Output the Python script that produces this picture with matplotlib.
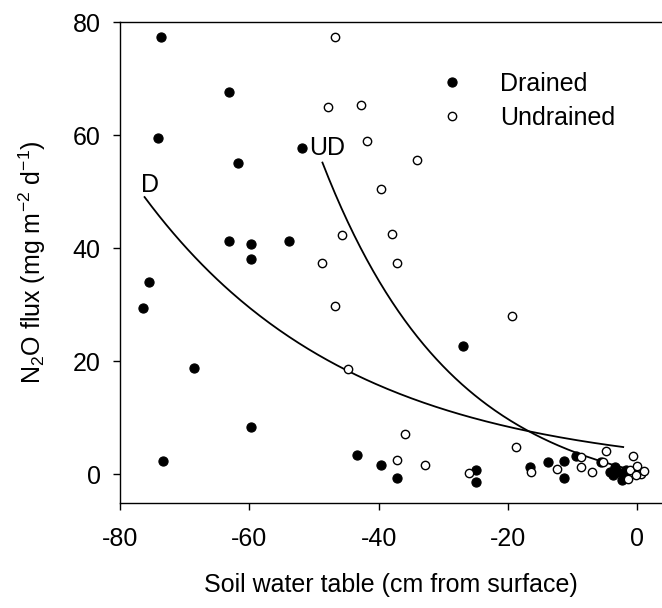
import numpy as np
import matplotlib
matplotlib.use("Agg")
from matplotlib import pyplot as plt

plt.rcParams['font.family'] = ['Liberation Sans', 'DejaVu Sans']
plt.rcParams['mathtext.fontset'] = 'custom'
plt.rcParams['mathtext.rm'] = 'Liberation Sans'
plt.rcParams['mathtext.it'] = 'Liberation Sans:italic'
plt.rcParams['axes.unicode_minus'] = False

# drained sites
drained_x = [-73.6, -63.2, -74.2, -61.7, -51.9, -63.2, -59.7, -53.9, -59.8, -75.5,
             -76.4, -68.5, -59.8, -73.3, -27.0, -43.4, -39.7, -37.1, -25.0, -25.0,
             -16.6, -13.8, -11.3, -11.3, -9.5, -5.7, -3.5, -4.3, -3.0, -2.2,
             -2.4, -1.7, -3.7]
drained_y = [77.3, 67.6, 59.5, 55.0, 57.7, 41.2, 40.7, 41.2, 38.1, 34.0,
             29.4, 18.8, 8.3, 2.3, 22.7, 3.4, 1.6, -0.7, 0.8, -1.4,
             1.2, 2.2, 2.3, -0.6, 3.2, 2.2, 1.3, 0.4, 0.4, 0.1,
             -1.1, 0.7, -0.2]

# undrained sites
undrained_x = [-46.8, -47.8, -42.8, -41.8, -34.1, -39.7, -45.7, -37.9, -48.7, -37.1,
               -46.7, -44.8, -19.4, -35.9, -37.2, -32.9, -26.0, -18.7, -16.4, -12.4,
               -8.7, -8.7, -7.1, -5.3, -4.8, -0.7, -1.2, 0.0, 0.6, 1.0,
               -1.4, -0.2]
undrained_y = [77.3, 65.0, 65.3, 58.9, 55.6, 50.5, 42.3, 42.5, 37.3, 37.3,
               29.7, 18.6, 28.0, 7.1, 2.5, 1.6, 0.2, 4.8, 0.35, 1.0,
               3.0, 1.3, 0.4, 2.1, 4.1, 3.2, 0.8, 1.4, 0.1, 0.6,
               -0.8, -0.2]

# fitted curves  y = a*exp(b*x) + c  over their x range
fit_d = dict(a=4.48, b=-0.0314, c=0.0, x0=-76.2, x1=-2.2)
fit_ud = dict(a=5.53, b=-0.049, c=-5.0, x0=-48.7, x1=0.0)

x_ticks = [-80, -60, -40, -20, 0]
y_ticks = [0, 20, 40, 60, 80]

fig = plt.figure(figsize=(6.62, 6.08), dpi=100)
ax = fig.add_axes([120/662, (608-503)/608, 542/662, 481/608])

for fit in (fit_d, fit_ud):
    xx = np.linspace(fit['x0'], fit['x1'], 200)
    ax.plot(xx, fit['a']*np.exp(fit['b']*xx) + fit['c'], color='black', lw=1.3, zorder=1)

ax.plot(drained_x, drained_y, 'o', ms=6.6, mfc='black', mec='black', mew=0.8,
        ls='none', label='Drained', zorder=2)
ax.plot(undrained_x, undrained_y, 'o', ms=6.0, mfc='white', mec='black', mew=1.0,
        ls='none', label='Undrained', zorder=3)

ax.text(-75.4, 51.2, 'D', fontsize=18, ha='center', va='center')
ax.text(-47.9, 57.7, 'UD', fontsize=18, ha='center', va='center')

ax.set_xlim(-80, 3.8)
ax.set_ylim(-5.1, 80)
ax.set_xticks(x_ticks)
ax.set_yticks(y_ticks)
ax.tick_params(direction='out', length=5, width=1, labelsize=18)
ax.tick_params(axis='y', pad=9)
ax.tick_params(axis='x', pad=12)
ax.spines['right'].set_visible(False)
for s in ['left', 'bottom', 'top']:
    ax.spines[s].set_linewidth(1)

ax.set_xlabel('Soil water table (cm from surface)', fontsize=18, labelpad=16)
ax.set_ylabel(r'N$_2$O flux (mg m$^{-2}$ d$^{-1}$)', fontsize=18, labelpad=18)

ax.legend(loc='upper left', bbox_to_anchor=(0.59, 0.897), frameon=False, fontsize=18,
          handlelength=1, handletextpad=1.4, borderpad=0, borderaxespad=0,
          labelspacing=0.4, markerscale=1.0)

fig.savefig('out.png', dpi=100)
